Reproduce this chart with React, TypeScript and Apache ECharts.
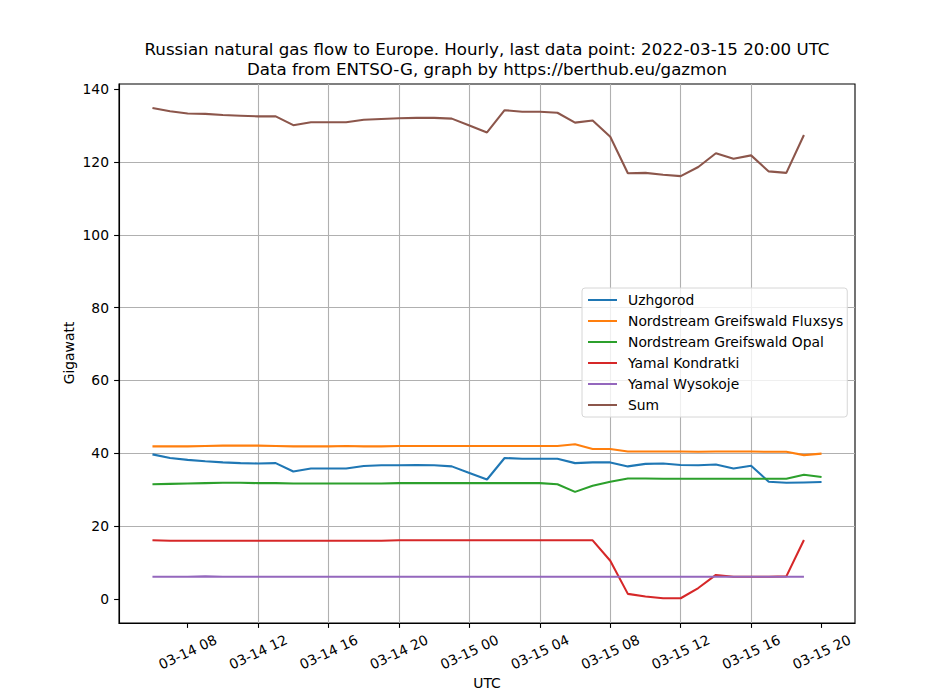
import React, { useEffect, useRef } from "react";
import * as echarts from "echarts";

const hourLabels = [
  "03-14 06", "03-14 07", "03-14 08", "03-14 09", "03-14 10", "03-14 11", "03-14 12", "03-14 13",
  "03-14 14", "03-14 15", "03-14 16", "03-14 17", "03-14 18", "03-14 19", "03-14 20", "03-14 21",
  "03-14 22", "03-14 23", "03-15 00", "03-15 01", "03-15 02", "03-15 03", "03-15 04", "03-15 05",
  "03-15 06", "03-15 07", "03-15 08", "03-15 09", "03-15 10", "03-15 11", "03-15 12", "03-15 13",
  "03-15 14", "03-15 15", "03-15 16", "03-15 17", "03-15 18", "03-15 19", "03-15 20",
];

const uzhgorod = [
  39.7, 38.7, 38.2, 37.8, 37.5, 37.3, 37.2, 37.3, 35.0, 35.8, 35.8, 35.8, 36.5, 36.7, 36.7, 36.8,
  36.7, 36.4, 34.6, 32.8, 38.7, 38.5, 38.5, 38.5, 37.3, 37.5, 37.5, 36.4, 37.1, 37.2, 36.8, 36.7,
  36.9, 35.8, 36.6, 32.2, 31.9, 32.0, 32.1,
];

const fluxsys = [
  41.9, 41.9, 41.9, 42.0, 42.1, 42.1, 42.1, 42.0, 41.9, 41.9, 41.9, 42.0, 41.9, 41.9, 42.0, 42.0,
  42.0, 42.0, 42.0, 42.0, 42.0, 42.0, 42.0, 42.0, 42.5, 41.2, 41.2, 40.5, 40.5, 40.5, 40.5, 40.4,
  40.5, 40.5, 40.5, 40.4, 40.4, 39.5, 39.9,
];

const opal = [
  31.5, 31.6, 31.7, 31.8, 31.9, 31.9, 31.8, 31.8, 31.7, 31.7, 31.7, 31.7, 31.7, 31.7, 31.8, 31.8,
  31.8, 31.8, 31.8, 31.8, 31.8, 31.8, 31.8, 31.5, 29.4, 31.1, 32.2, 33.1, 33.1, 33.0, 33.0, 33.0,
  33.0, 33.0, 33.0, 33.0, 33.0, 34.1, 33.5,
];

const kondratki = [
  16.1, 16.0, 16.0, 16.0, 16.0, 16.0, 16.0, 16.0, 16.0, 16.0, 16.0, 16.0, 16.0, 16.0, 16.1, 16.1,
  16.1, 16.1, 16.1, 16.1, 16.1, 16.1, 16.1, 16.1, 16.1, 16.1, 10.5, 1.4, 0.7, 0.2, 0.2, 3.0,
  6.6, 6.1, 6.1, 6.1, 6.2, 16.2,
];

const wysokoje = [
  6.1, 6.1, 6.1, 6.2, 6.1, 6.1, 6.1, 6.1, 6.1, 6.1, 6.1, 6.1, 6.1, 6.1, 6.1, 6.1,
  6.1, 6.1, 6.1, 6.1, 6.1, 6.1, 6.1, 6.1, 6.1, 6.1, 6.1, 6.1, 6.1, 6.1, 6.1, 6.1,
  6.1, 6.1, 6.1, 6.1, 6.1, 6.1,
];

const sum = [
  134.8, 133.9, 133.3, 133.2, 132.9, 132.7, 132.5, 132.5, 130.1, 130.9, 130.9, 130.9, 131.6, 131.8,
  132.0, 132.1, 132.1, 131.9, 130.0, 128.1, 134.2, 133.8, 133.8, 133.5, 130.8, 131.4, 126.9, 116.9,
  117.0, 116.5, 116.1, 118.6, 122.4, 120.9, 121.8, 117.4, 117.0, 127.4,
];

const seriesNames = [
  "Uzhgorod",
  "Nordstream Greifswald Fluxsys",
  "Nordstream Greifswald Opal",
  "Yamal Kondratki",
  "Yamal Wysokoje",
  "Sum",
];
const seriesColors = ["#1f77b4", "#ff7f0e", "#2ca02c", "#d62728", "#9467bd", "#8c564b"];
const seriesValues = [uzhgorod, fluxsys, opal, kondratki, wysokoje, sum];

const xTickLabels = [
  "03-14 08", "03-14 12", "03-14 16", "03-14 20", "03-15 00",
  "03-15 04", "03-15 08", "03-15 12", "03-15 16", "03-15 20",
];
const yTicks = [0, 20, 40, 60, 80, 100, 120, 140];

const titleLines = [
  "Russian natural gas flow to Europe. Hourly, last data point: 2022-03-15 20:00 UTC",
  "Data from ENTSO-G, graph by https://berthub.eu/gazmon",
];

const FONT = "DejaVu Sans";

function toHours(label: string): number {
  const day = parseInt(label.slice(3, 5), 10);
  const hour = parseInt(label.slice(6, 8), 10);
  return (day - 14) * 24 + hour;
}

export default function App() {
  const ref = useRef<HTMLDivElement>(null);

  useEffect(() => {
    if (!ref.current) return;
    const chart = echarts.init(ref.current, undefined, { renderer: "svg" });
    const xs = hourLabels.map(toHours);
    const xTickValues = xTickLabels.map(toHours);

    const series = seriesNames.map((name, k) => ({
      name,
      type: "line",
      data: seriesValues[k].map((v, i) => [xs[i], v]),
      showSymbol: false,
      symbol: "none",
      color: seriesColors[k],
      lineStyle: { color: seriesColors[k], width: 2.08 },
      z: 3 + k,
    }));

    const option: any = {
      animation: false,
      backgroundColor: "#ffffff",
      textStyle: { fontFamily: FONT },
      grid: {
        left: 119,
        right: 95,
        top: 84,
        bottom: 77,
        show: true,
        borderColor: "#000000",
        borderWidth: 1.1,
        backgroundColor: "transparent",
      },
      xAxis: {
        type: "value",
        min: 4.1,
        max: 45.9,
        minInterval: 4,
        maxInterval: 4,
        axisLine: { show: true, onZero: false, lineStyle: { color: "#000", width: 1.1 } },
        axisTick: {
          show: true,
          customValues: xTickValues,
          length: 4.9,
          lineStyle: { color: "#000", width: 1.1 },
        },
        axisLabel: {
          customValues: xTickValues,
          formatter: (v: number) => {
            const idx = xTickValues.indexOf(Math.round(v));
            return idx >= 0 ? xTickLabels[idx] : "";
          },
          rotate: 25,
          align: "center",
          verticalAlign: "middle",
          margin: 29,
          fontSize: 13.89,
          color: "#000",
          fontFamily: FONT,
        },
        splitLine: {
          show: true,
          showMinLine: false,
          showMaxLine: false,
          lineStyle: { color: "#b0b0b0", width: 1.1 },
        },
      },
      yAxis: {
        type: "value",
        min: -6.6,
        max: 141.4,
        minInterval: 20,
        maxInterval: 20,
        axisLine: { show: true, onZero: false, lineStyle: { color: "#000", width: 1.1 } },
        axisTick: {
          show: true,
          customValues: yTicks,
          length: 4.9,
          lineStyle: { color: "#000", width: 1.1 },
        },
        axisLabel: {
          customValues: yTicks,
          margin: 10,
          fontSize: 13.89,
          color: "#000",
          fontFamily: FONT,
        },
        splitLine: {
          show: true,
          showMinLine: false,
          showMaxLine: false,
          lineStyle: { color: "#b0b0b0", width: 1.1 },
        },
      },
      legend: {
        orient: "vertical",
        left: 582,
        top: 288,
        data: seriesNames,
        itemWidth: 29,
        itemHeight: 14,
        itemGap: 7,
        padding: [5, 4, 5, 5],
        backgroundColor: "rgba(255,255,255,0.8)",
        borderColor: "#d6d6d6",
        borderWidth: 1,
        borderRadius: 3,
        itemStyle: { opacity: 0 },
        textStyle: {
          fontSize: 13.89,
          color: "#000",
          fontFamily: FONT,
          lineHeight: 14,
          padding: [0, 0, 0, 6],
        },
      },
      graphic: [
        {
          type: "text",
          x: 487,
          y: 49,
          style: {
            text: titleLines[0],
            fontSize: 16.67,
            fontFamily: FONT,
            fill: "#000",
            textAlign: "center",
            textVerticalAlign: "middle",
          },
        },
        {
          type: "text",
          x: 487,
          y: 69.5,
          style: {
            text: titleLines[1],
            fontSize: 16.67,
            fontFamily: FONT,
            fill: "#000",
            textAlign: "center",
            textVerticalAlign: "middle",
          },
        },
        {
          type: "text",
          x: 487,
          y: 683,
          style: {
            text: "UTC",
            fontSize: 13.89,
            fontFamily: FONT,
            fill: "#000",
            textAlign: "center",
            textVerticalAlign: "middle",
          },
        },
        {
          type: "text",
          x: 69,
          y: 353,
          rotation: Math.PI / 2,
          style: {
            text: "Gigawatt",
            fontSize: 13.89,
            fontFamily: FONT,
            fill: "#000",
            textAlign: "center",
            textVerticalAlign: "middle",
          },
        },
      ],
      series,
    };

    chart.setOption(option);
    return () => {
      chart.dispose();
    };
  }, []);

  return (
    <div
      ref={ref}
      style={{ position: "fixed", left: 0, top: 0, width: 950, height: 700, background: "#fff" }}
    />
  );
}
